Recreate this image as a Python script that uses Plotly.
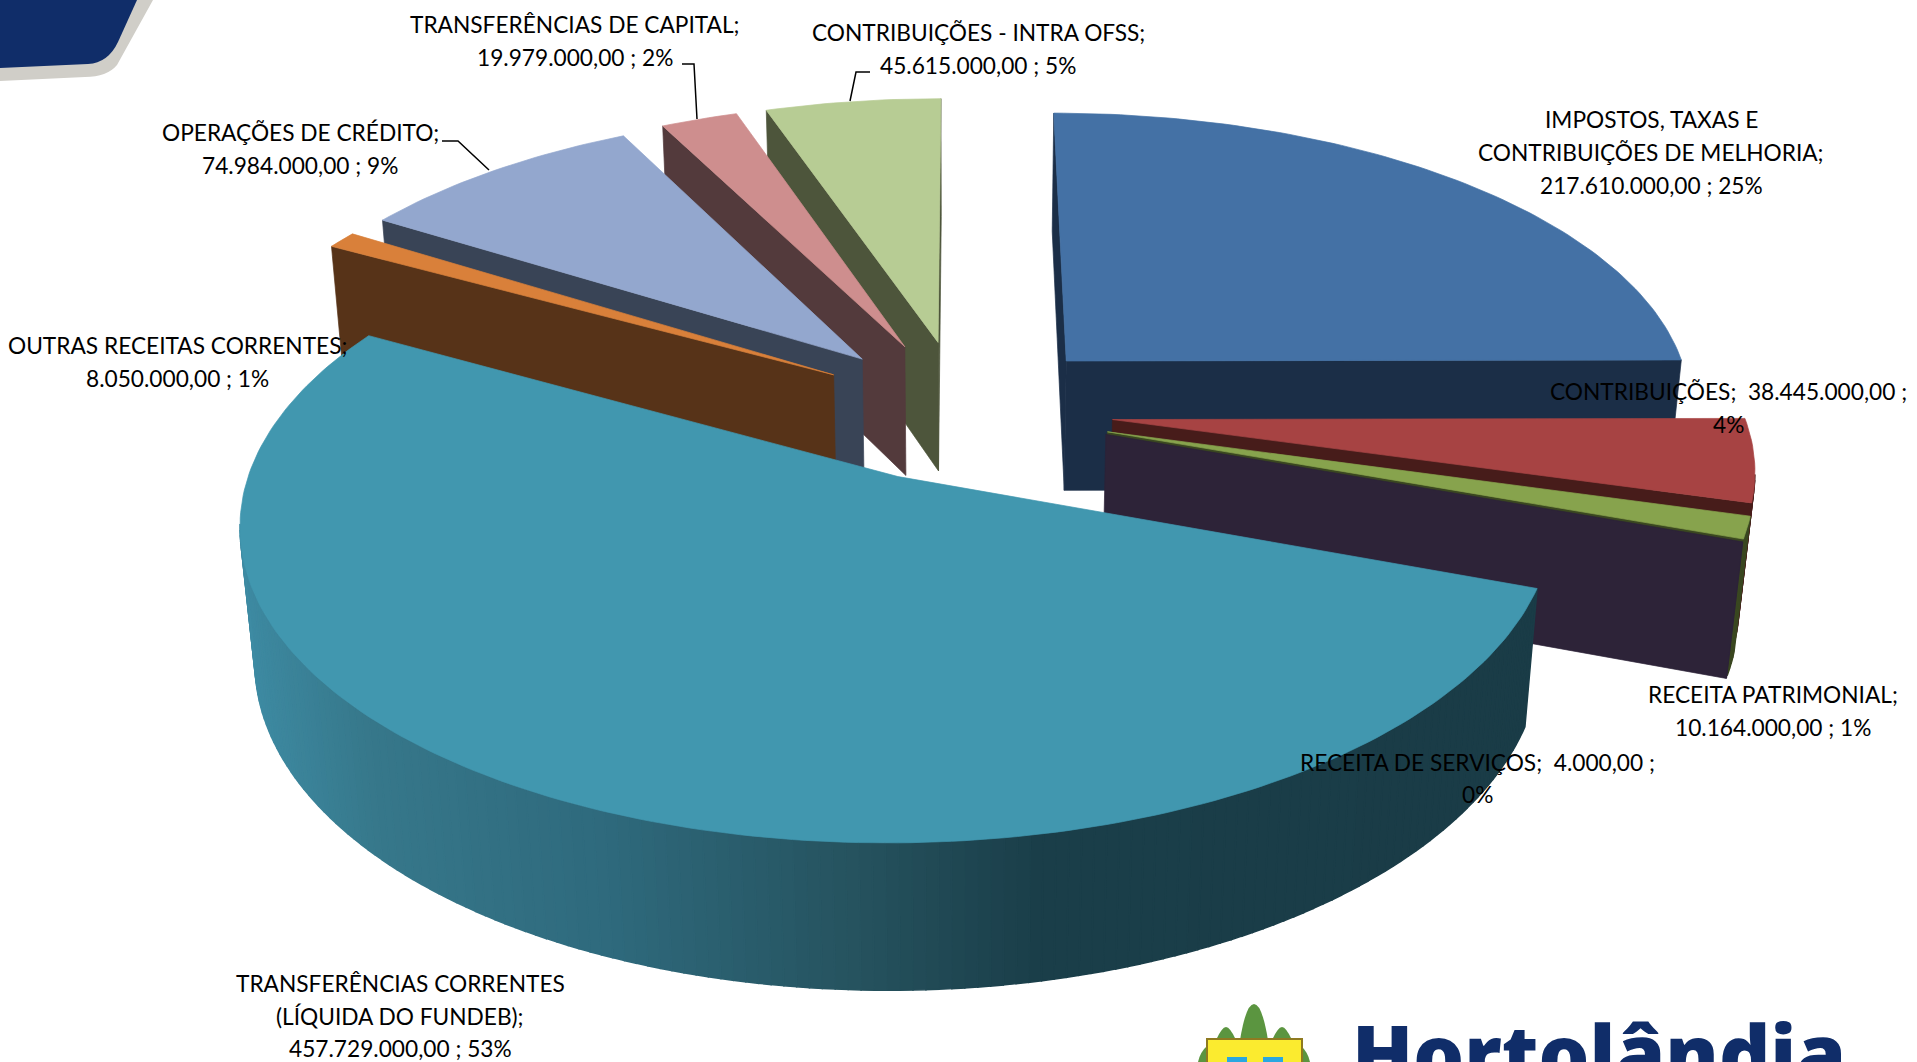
"""Receitas - pizza 3D explodida, desenhada com Scatter preenchido."""
import numpy as np
import plotly.graph_objects as go

# Dados
categorias = [
    'IMPOSTOS, TAXAS E CONTRIBUIÇÕES DE MELHORIA',
    'CONTRIBUIÇÕES',
    'RECEITA PATRIMONIAL',
    'RECEITA DE SERVIÇOS',
    'TRANSFERÊNCIAS CORRENTES (LÍQUIDA DO FUNDEB)',
    'OUTRAS RECEITAS CORRENTES',
    'OPERAÇÕES DE CRÉDITO',
    'TRANSFERÊNCIAS DE CAPITAL',
    'CONTRIBUIÇÕES - INTRA OFSS',
]
valores = [217610000, 38445000, 10164000, 4000, 457729000, 8050000, 74984000, 19979000, 45615000]

rotulos = [
    ['IMPOSTOS, TAXAS E', 'CONTRIBUIÇÕES DE MELHORIA;', '217.610.000,00 ; 25%'],
    ['CONTRIBUIÇÕES;  38.445.000,00 ;', '4%'],
    ['RECEITA PATRIMONIAL;', '10.164.000,00 ; 1%'],
    ['RECEITA DE SERVIÇOS;  4.000,00 ;', '0%'],
    ['TRANSFERÊNCIAS CORRENTES', '(LÍQUIDA DO FUNDEB);', '457.729.000,00 ; 53%'],
    ['OUTRAS RECEITAS CORRENTES;', '8.050.000,00 ; 1%'],
    ['OPERAÇÕES DE CRÉDITO;', '74.984.000,00 ; 9%'],
    ['TRANSFERÊNCIAS DE CAPITAL;', '19.979.000,00 ; 2%'],
    ['CONTRIBUIÇÕES - INTRA OFSS;', '45.615.000,00 ; 5%'],
]

# Estilo
cor_topo = ['#4471A5', '#A74343', '#87A34D', '#2D2338', '#4197AF', '#D9803A', '#93A7CE', '#CE8E8E', '#B7CC94']
cor_lado = ['#1B2E47', '#471C1A', '#3A4720', '#2D2338', '#1A3C47', '#573318', '#394456', '#533A3C', '#4D553B']
ordem = [8, 7, 6, 5, 0, 1, 2, 3, 4]  # de tras para frente
IDX_TEAL = 4

# centro x e y de cada linha dos rotulos (px)
rotulo_x = [1651, 1728, 1773, 1477, 400, 177, 300, 575, 978]
rotulo_y = [
    [119, 152, 185], [391, 424], [694, 727], [762, 794],
    [983, 1016, 1048], [345, 378], [132, 165], [24, 57], [32, 65],
]
FONTE = 'Lato'
TAM_FONTE = 22.7

# Projecao em perspectiva
CX, CY = 962, 410
A, B, H = 630, 295, 134
K, M = 0.139, 0.02
EXPLOSAO = 0.24
R_PASSO = np.radians(1.0)

gradiente_x = [240, 370, 610, 860, 1040, 1530]
gradiente_rgb = np.array([[62, 139, 163], [55, 120, 139], [47, 106, 125], [38, 83, 95], [27, 63, 74], [26, 60, 71]])


def projeta(X, Y, z):
    w = 1 + K * Y + M * z
    return CX + A * X / w, CY - B * Y / w + H * z / w


def poligono(fig, pontos, cor, espessura=0.7):
    xs, ys = zip(*[projeta(*p) for p in pontos])
    fig.add_trace(go.Scatter(
        x=list(xs) + [xs[0]], y=list(ys) + [ys[0]], mode='lines', fill='toself',
        fillcolor=cor, line=dict(color=cor, width=espessura), hoverinfo='skip', showlegend=False,
    ))


def virado_para_camera(X, Y, nx, ny):
    return X * nx + (Y + 1 / K) * ny < 0


def cor_gradiente(x):
    return 'rgb(%d,%d,%d)' % tuple(np.interp(x, gradiente_x, gradiente_rgb[:, i]) for i in range(3))


def desenha_fatia(fig, i, t0, t1):
    meio = (t0 + t1) / 2
    ox, oy = EXPLOSAO * np.sin(meio), EXPLOSAO * np.cos(meio)
    n = max(int((t1 - t0) / R_PASSO), 1)
    ang = np.linspace(t0, t1, n + 1)
    arco = [(ox + np.sin(a), oy + np.cos(a)) for a in ang]

    # parede externa
    for a, p, q in zip(ang[:-1], arco[:-1], arco[1:]):
        if virado_para_camera(p[0], p[1], np.sin(a), np.cos(a)):
            cor = cor_gradiente(projeta(p[0], p[1], 0)[0]) if i == IDX_TEAL else cor_lado[i]
            poligono(fig, [(*p, 0), (*q, 0), (*q, 1), (*p, 1)], cor, 1.5)

    # paredes radiais
    if virado_para_camera(ox, oy, -np.cos(t0), np.sin(t0)):
        poligono(fig, [(ox, oy, 0), (*arco[0], 0), (*arco[0], 1), (ox, oy, 1)], cor_lado[i])
    if virado_para_camera(ox, oy, np.cos(t1), -np.sin(t1)):
        poligono(fig, [(ox, oy, 0), (*arco[-1], 0), (*arco[-1], 1), (ox, oy, 1)], cor_lado[i])

    # topo
    if t1 - t0 > 1e-3:
        poligono(fig, [(ox, oy, 0)] + [(*p, 0) for p in arco], cor_topo[i])


fracao = np.array(valores) / sum(valores)
limites = np.concatenate([[0], np.cumsum(fracao)]) * 2 * np.pi

fig = go.Figure()
for i in ordem:
    desenha_fatia(fig, i, limites[i], limites[i + 1])

# Rotulos
anotacoes = []
for linhas, x, ys in zip(rotulos, rotulo_x, rotulo_y):
    for linha, y in zip(linhas, ys):
        anotacoes.append(dict(
            x=x, y=y, xref='x', yref='y', text=linha, showarrow=False,
            font=dict(family=FONTE, size=TAM_FONTE, color='black'),
        ))

# Logo no rodape
anotacoes.append(dict(
    x=1350, y=995, xref='x', yref='y', xanchor='left', yanchor='top', text='Hortolândia', showarrow=False,
    font=dict(family='Open Sans', size=80, color='#102D69', weight=800),
))

# Guias dos rotulos e decoracao
guias = ['M 682 64 L 694 64 L 697 119', 'M 870 72 L 856 72 L 850 101', 'M 442 141 L 458 141 L 489 170']
formas = [dict(type='path', path=g, line=dict(color='black', width=1.5)) for g in guias]
formas += [
    dict(type='path', path='M 0 0 L 153 0 L 117 65 Q 107 77 85 77 L 0 81 Z', fillcolor='#D0CEC8', line_width=0),
    dict(type='path', path='M 0 0 L 137 0 L 118 42 Q 108 63 88 64 L 0 68 Z', fillcolor='#102D69', line_width=0),
    dict(type='path', path='M 1240 1040 Q 1246 1004 1254 1004 Q 1262 1004 1268 1040 Z', fillcolor='#5B9540', line_width=0),
    dict(type='path', path='M 1216 1040 Q 1222 1027 1226 1027 Q 1230 1027 1236 1040 Z', fillcolor='#5B9540', line_width=0),
    dict(type='path', path='M 1272 1040 Q 1278 1027 1282 1027 Q 1286 1027 1292 1040 Z', fillcolor='#5B9540', line_width=0),
    dict(type='path', path='M 1198 1062 Q 1200 1052 1208 1045 L 1208 1062 Z', fillcolor='#5B9540', line_width=0),
    dict(type='path', path='M 1310 1062 Q 1308 1052 1300 1045 L 1300 1062 Z', fillcolor='#5B9540', line_width=0),
    dict(type='rect', x0=1207, x1=1302, y0=1039, y1=1070, fillcolor='#FBEB2F', line=dict(color='#8F7A20', width=2)),
    dict(type='rect', x0=1227, x1=1247, y0=1057, y1=1070, fillcolor='#2AA7E0', line_width=0),
    dict(type='rect', x0=1263, x1=1283, y0=1057, y1=1070, fillcolor='#2AA7E0', line_width=0),
]
for f in formas:
    f.update(xref='x', yref='y')

fig.update_layout(
    width=1917, height=1062,
    margin=dict(l=0, r=0, t=0, b=0),
    paper_bgcolor='white', plot_bgcolor='white',
    xaxis=dict(range=[0, 1917], visible=False, fixedrange=True),
    yaxis=dict(range=[1062, 0], visible=False, fixedrange=True),
    annotations=anotacoes, shapes=formas, showlegend=False,
)

fig.write_html('out.html', post_script="document.body.style.margin='0';document.documentElement.style.overflow='hidden';", config={'displayModeBar': False})
